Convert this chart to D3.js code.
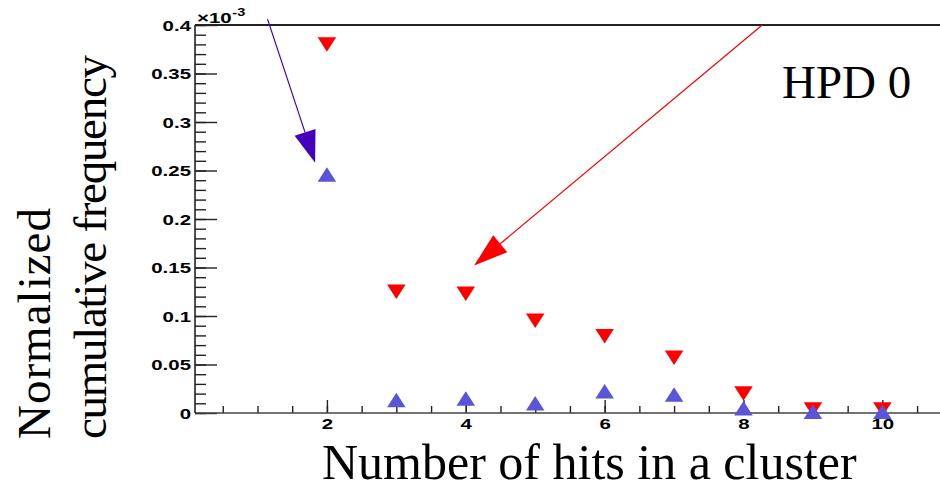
<!DOCTYPE html>
<html>
<head>
<meta charset="utf-8">
<script src="https://cdn.jsdelivr.net/npm/d3@7"></script>
<style>
  html, body { margin: 0; padding: 0; background: #fff; }
  svg { display: block; }
</style>
</head>
<body>
<svg id="chart" width="940" height="490"></svg>
<script>
// Cluster size (number of hits)
const hits = [2, 3, 4, 5, 6, 7, 8, 9, 10];
// Normalized cumulative frequency, in units of 1e-3
const redSeries  = [0.380, 0.125, 0.123, 0.095, 0.079, 0.057, 0.020, 0.0035, 0.0035];
const blueSeries = [0.246, 0.0135, 0.015, 0.010, 0.0225, 0.019, 0.005, 0.0013, 0.0013];

// Axis ticks
const xMajorTicks = [2, 4, 6, 8, 10];
const yMajorTicks = [0, 0.05, 0.1, 0.15, 0.2, 0.25, 0.3, 0.35, 0.4];

// Annotation arrows, in data coordinates: [x0, y0, x1, y1]
const blueArrow = [1.145, 0.406, 1.83, 0.258];
const redArrow  = [8.27, 0.400, 4.12, 0.152];

const svg = d3.select("#chart");
const W = 940, H = 490;
const padL = 195, padR = 940, padT = 25, padB = 413;

const x = d3.scaleLinear().domain([0.1, 10.83]).range([padL, padR]);
const y = d3.scaleLinear().domain([0, 0.4]).range([padB, padT]);

svg.append("rect").attr("width", W).attr("height", H).attr("fill", "#fff");

const labelFont = "'Liberation Sans', Arial, Helvetica, sans-serif";
const serif = "'Liberation Serif', 'Times New Roman', Times, serif";
const SX = 1.38; // horizontal stretch of the bold axis labels

// ---- Y axis: minor ticks every 0.01, major every 0.05, drawn inward ----
const yMinor = d3.axisRight(y).tickValues(d3.range(0, 0.4001, 0.01)).tickSize(11).tickFormat("");
svg.append("g").attr("transform", `translate(${padL},0)`).call(yMinor)
  .call(g => g.select(".domain").remove())
  .selectAll("line").attr("stroke", "#222").attr("stroke-width", 1.4);

const yMajor = d3.axisRight(y).tickValues(yMajorTicks).tickSize(22)
  .tickFormat(d => d === 0 ? "0" : d3.format("~g")(d));
const gy = svg.append("g").attr("transform", `translate(${padL},0)`).call(yMajor);
gy.select(".domain").remove();
gy.selectAll("line").attr("stroke", "#222").attr("stroke-width", 1.4);
gy.selectAll("text")
  .attr("x", null).attr("dy", null)
  .attr("text-anchor", "end")
  .attr("font-family", labelFont).attr("font-weight", "bold").attr("font-size", 14.8)
  .attr("fill", "#000")
  .attr("transform", `translate(-4,5) scale(${SX},1)`);

// ---- X axis: minor ticks every 0.5, major at even values, drawn inward ----
const xMinor = d3.axisTop(x).tickValues(d3.range(0.5, 10.81, 0.5)).tickSize(7).tickFormat("");
svg.append("g").attr("transform", `translate(0,${padB})`).call(xMinor)
  .call(g => g.select(".domain").remove())
  .selectAll("line").attr("stroke", "#222").attr("stroke-width", 1.4);

const xMajor = d3.axisTop(x).tickValues(xMajorTicks).tickSize(13).tickFormat(d3.format("d"));
const gx = svg.append("g").attr("transform", `translate(0,${padB})`).call(xMajor);
gx.select(".domain").remove();
gx.selectAll("line").attr("stroke", "#222").attr("stroke-width", 1.4);
gx.selectAll("text")
  .attr("y", null).attr("dy", null)
  .attr("text-anchor", "middle")
  .attr("font-family", labelFont).attr("font-weight", "bold").attr("font-size", 14.8)
  .attr("fill", "#000")
  .attr("transform", `translate(0,16) scale(${SX},1)`);

// ---- Frame lines ----
svg.append("line").attr("x1", padL).attr("x2", padR).attr("y1", padB).attr("y2", padB)
  .attr("stroke", "#444").attr("stroke-width", 1.6);
svg.append("line").attr("x1", padL).attr("x2", padL).attr("y1", padT).attr("y2", padB)
  .attr("stroke", "#222").attr("stroke-width", 1.6);
svg.append("line").attr("x1", padL).attr("x2", padR).attr("y1", padT).attr("y2", padT)
  .attr("stroke", "#222").attr("stroke-width", 1.8);

// ---- Exponent label ----
const expo = svg.append("text")
  .attr("font-family", labelFont).attr("font-weight", "bold").attr("font-size", 14.8)
  .attr("fill", "#000")
  .attr("transform", `translate(197,22.5) scale(${SX},1)`);
expo.append("tspan").text("\u00d710");
expo.append("tspan").attr("font-size", 10.5).attr("dy", -7).attr("dx", 0.5).text("-3");

// ---- Markers ----
const tw = 18.5, th = 14.5;
function triangle(cx, cy, up) {
  return up
    ? `M${cx - tw / 2},${cy + th / 2}L${cx + tw / 2},${cy + th / 2}L${cx},${cy - th / 2}Z`
    : `M${cx - tw / 2},${cy - th / 2}L${cx + tw / 2},${cy - th / 2}L${cx},${cy + th / 2}Z`;
}

svg.append("g").selectAll("path")
  .data(hits.map((h, i) => ({ h, v: redSeries[i] })))
  .join("path")
  .attr("d", d => triangle(x(d.h), y(d.v), false))
  .attr("fill", "#ff0000");

svg.append("g").selectAll("path")
  .data(hits.map((h, i) => ({ h, v: blueSeries[i] })))
  .join("path")
  .attr("d", d => triangle(x(d.h), y(d.v), true))
  .attr("fill", "#5954d8");

// ---- Arrows ----
function arrow(a, color, headLen, headHalf) {
  const x0 = x(a[0]), y0 = y(a[1]), x1 = x(a[2]), y1 = y(a[3]);
  const ang = Math.atan2(y1 - y0, x1 - x0);
  const bx = x1 - headLen * Math.cos(ang), by = y1 - headLen * Math.sin(ang);
  const px = -Math.sin(ang) * headHalf, py = Math.cos(ang) * headHalf;
  const g = svg.append("g");
  g.append("line").attr("x1", x0).attr("y1", y0).attr("x2", bx).attr("y2", by)
    .attr("stroke", color).attr("stroke-width", 1.2);
  g.append("path")
    .attr("d", `M${x1},${y1}L${bx + px},${by + py}L${bx - px},${by - py}Z`)
    .attr("fill", color);
}
arrow(blueArrow, "#4500b9", 32, 11);
arrow(redArrow, "#ff0000", 34, 11);

// ---- Texts ----
svg.append("text")
  .attr("x", 782).attr("y", 98)
  .attr("font-family", serif).attr("font-size", 47).attr("fill", "#000")
  .text("HPD 0");

svg.append("text")
  .attr("x", 322).attr("y", 479)
  .attr("font-family", serif).attr("font-size", 50).attr("fill", "#000")
  .text("Number of hits in a cluster");

const yTitle = svg.append("text")
  .attr("transform", "translate(50,439) rotate(-90)")
  .attr("font-family", serif).attr("font-size", 47).attr("fill", "#000");
yTitle.append("tspan").attr("x", 0).attr("y", 0)
  .attr("textLength", 231).text("Normalized");
yTitle.append("tspan").attr("x", 0).attr("y", 56)
  .attr("textLength", 384).text("cumulative frequency");
</script>
</body>
</html>
